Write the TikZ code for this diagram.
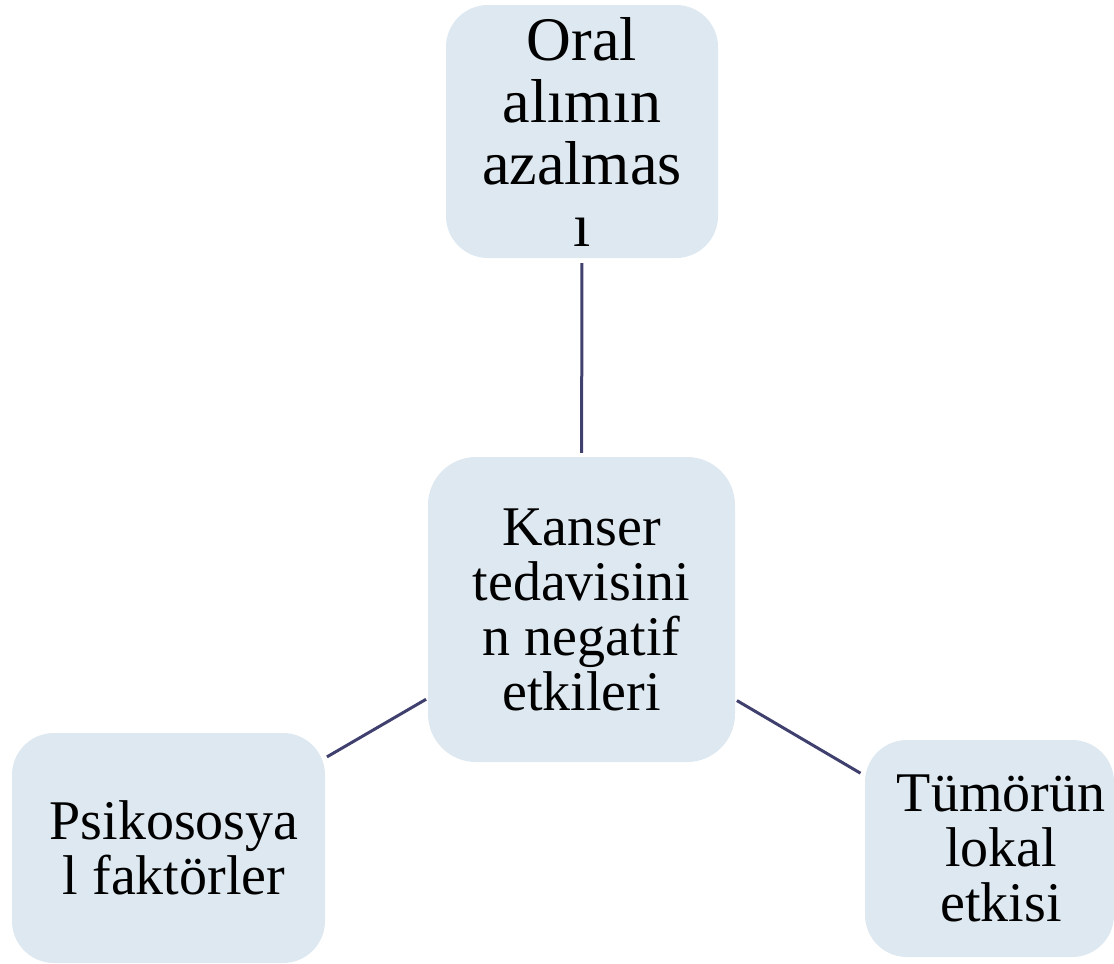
\documentclass[tikz,border=0pt]{standalone}
\usepackage{fontspec}
\setmainfont{Liberation Serif}
\definecolor{boxfill}{RGB}{222,232,240}
\definecolor{linkcol}{RGB}{64,64,110}
\tikzset{
  topic/.style={fill=boxfill, draw=none, rounded corners=#1, align=center, inner sep=0pt},
  topic/.default=42pt,
  label text/.style={align=center, inner sep=0pt},
  bodyfont/.style={font=\fontsize{56}{55}\selectfont},
  bigfont/.style={font=\fontsize{62}{62}\selectfont},
  link/.style={draw=linkcol, line width=3pt}
}
\begin{document}
\begin{tikzpicture}[x=1pt,y=-1pt]
\useasboundingbox (0,0) rectangle (1114,964);
% outer topics
\node[topic, bigfont, minimum width=272pt, minimum height=253pt] (oral) at (582,131.5)
  {Oral\\alımın\\azalmas\\ı};
\node[topic=48pt, bodyfont, minimum width=307pt, minimum height=305pt] (hub) at (581.5,609.5)
  {Kanser\\tedavisini\\n negatif\\etkileri};
\node[topic, minimum width=313pt, minimum height=230pt] (psiko) at (168.5,848) {};
\node[label text, bodyfont] (psikotext) at (174,848) {Psikososya\\l faktörler};
\node[topic, minimum width=249pt, minimum height=217pt] (tumor) at (989.5,848.5) {};
\node[label text, bodyfont] (tumortext) at (1001,848.5) {Tümörün\\lokal\\etkisi};
% spokes from the hub
\draw[link, shorten <=4pt, shorten >=5pt] (hub) -- (oral);
\draw[link, shorten <=2pt, shorten >=2pt] (hub) -- (psiko);
\draw[link, shorten <=2pt, shorten >=5pt] (hub) -- (tumor);
\end{tikzpicture}
\end{document}
